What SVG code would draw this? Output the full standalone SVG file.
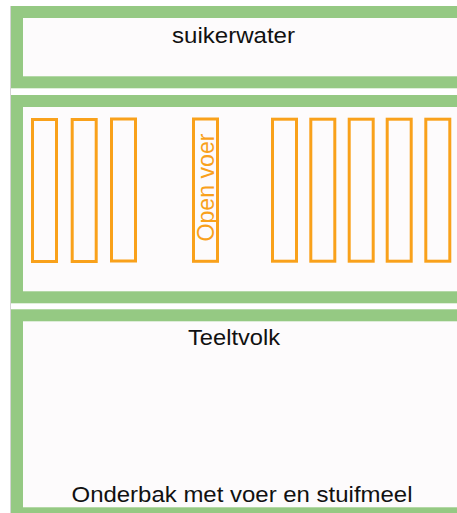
<svg xmlns="http://www.w3.org/2000/svg" width="457" height="513" viewBox="0 0 457 513">
<style>
.box{fill:#FDFBFC;stroke:#95C983;stroke-width:12}
.bar{fill:none;stroke:#F9A11B;stroke-width:3}
.lbl{font-family:"Liberation Sans",Arial,sans-serif;font-size:22px;fill:#111;text-anchor:middle}
</style>
<rect width="457" height="513" fill="#fff"/>
<line x1="10.5" y1="6" x2="10.5" y2="513" stroke="#d4d4d4" stroke-width="1"/>
<g id="suikerwater">
<rect class="box" x="17" y="12" width="460" height="70.3"/>
<text class="lbl" x="233.5" y="42.7" textLength="123" lengthAdjust="spacingAndGlyphs">suikerwater</text>
</g>
<g id="raampjes">
<rect class="box" x="17" y="101" width="460" height="196.3"/>
<rect class="bar" x="32.5" y="119.5" width="24" height="142"/>
<rect class="bar" x="72.2" y="119.5" width="24" height="142"/>
<rect class="bar" x="111.5" y="119" width="24" height="142"/>
<rect class="bar" x="272.5" y="119.2" width="24" height="142"/>
<rect class="bar" x="310.8" y="119.2" width="24" height="142"/>
<rect class="bar" x="349.2" y="119.2" width="24" height="142"/>
<rect class="bar" x="387.2" y="119.2" width="24" height="142"/>
<rect class="bar" x="425.8" y="119.2" width="24" height="142"/>
</g>
<g id="open-voer">
<rect class="bar" x="193.5" y="119" width="24" height="142.3"/>
<text x="0" y="0" transform="translate(214,187.5) rotate(-90)" font-family="'Liberation Sans',Arial,sans-serif" font-size="23" fill="#F9A11B" text-anchor="middle" textLength="108" lengthAdjust="spacingAndGlyphs">Open voer</text>
</g>
<g id="teeltvolk">
<rect class="box" x="17" y="315.3" width="460" height="198"/>
<text class="lbl" x="234" y="345" textLength="92" lengthAdjust="spacingAndGlyphs">Teeltvolk</text>
<text class="lbl" x="242" y="502.3" textLength="341" lengthAdjust="spacingAndGlyphs">Onderbak met voer en stuifmeel</text>
</g>
<g id="connectors"/>
</svg>
